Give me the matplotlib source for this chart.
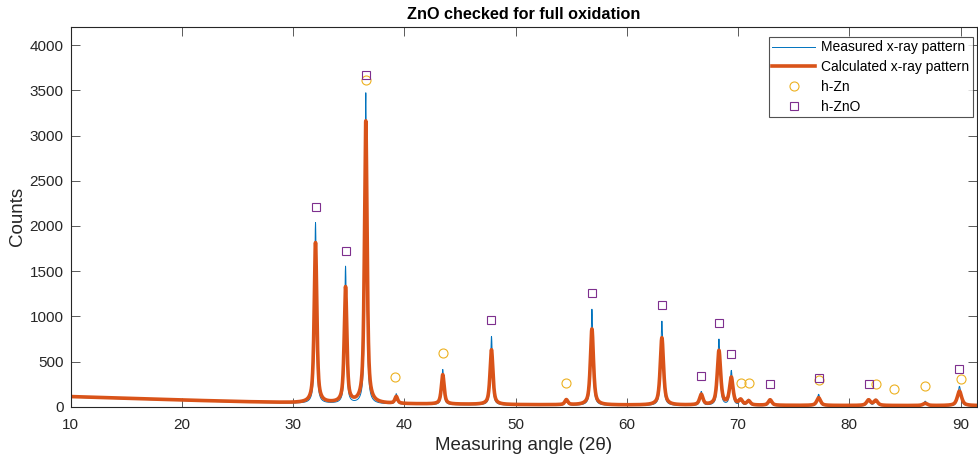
import numpy as np
import matplotlib.pyplot as plt

plt.rcParams['font.family'] = ['Liberation Sans', 'DejaVu Sans']

# Peak list of the pattern: position (2theta), height of calculated / measured peak, width
peak_pos = [32.01, 34.71, 36.53, 39.27, 43.45, 47.83, 54.56, 56.86, 63.15, 66.69,
            68.28, 69.39, 70.23, 70.95, 72.88, 77.24, 81.73, 82.38, 86.82, 89.90]
calc_height = [1770, 1275, 3120, 75, 325, 605, 55, 840, 745, 115,
               600, 300, 55, 45, 60, 85, 60, 55, 25, 160]
meas_height = [2000, 1515, 3440, 115, 390, 760, 75, 1065, 935, 155,
               735, 385, 75, 70, 80, 130, 80, 75, 55, 220]
peak_fwhm = [0.28, 0.28, 0.28, 0.29, 0.30, 0.31, 0.32, 0.33, 0.35, 0.36,
             0.36, 0.37, 0.37, 0.37, 0.38, 0.40, 0.42, 0.42, 0.44, 0.46]

# Background counts under the pattern
bg_angle = [10, 15, 20, 25, 30, 40, 50, 60, 70, 80, 91.5]
bg_counts = [112, 94, 74, 57, 44, 31, 22, 18, 15, 13, 12]

# Reference reflections
zn_angle = [36.53, 39.20, 43.45, 54.56, 70.23, 70.95, 77.24, 82.38, 84.06, 86.82, 90.05]
zn_counts = [3614, 330, 597, 259, 259, 262, 292, 248, 199, 229, 306]
zno_angle = [32.01, 34.71, 36.53, 47.83, 56.86, 63.15, 66.69, 68.28, 69.39, 72.88,
             77.24, 81.73, 89.90]
zno_counts = [2212, 1719, 3670, 956, 1258, 1128, 340, 929, 583, 255, 321, 255, 417]


def pattern(x, heights, widths, bg_shift=0.0):
    y = np.interp(x, bg_angle, bg_counts) + bg_shift
    for p, h, w in zip(peak_pos, heights, widths):
        lor = 1.0 / (1.0 + (2 * (x - p) / w) ** 2)
        gau = np.exp(-4 * np.log(2) * ((x - p) / w) ** 2)
        y += h * (0.7 * lor + 0.3 * gau)
    return y


two_theta = np.arange(10, 91.5, 0.01)
measured = pattern(two_theta, meas_height, [0.7 * w for w in peak_fwhm], bg_shift=-7)
calculated = pattern(two_theta, calc_height, peak_fwhm)

fig = plt.figure(figsize=(9.79, 4.58), dpi=100)
ax = fig.add_axes([0.0722, 0.112, 0.926, 0.829])

ax.plot(two_theta, measured, color='#0072BD', lw=0.7, label='Measured x-ray pattern')
ax.plot(two_theta, calculated, color='#D95319', lw=2.6, label='Calculated x-ray pattern')
ax.plot(zn_angle, zn_counts, 'o', mfc='none', mec='#EDB120', ms=6.5, mew=0.8,
        label='h-Zn')
ax.plot(zno_angle, zno_counts, 's', mfc='none', mec='#7E2F8E', ms=5.5, mew=0.8,
        label='h-ZnO')

ax.set_xlim(10, 91.5)
ax.set_ylim(0, 4200)
ax.set_xticks(range(10, 91, 10))
ax.set_yticks(range(0, 4001, 500))
ax.tick_params(direction='in', length=6.5, width=0.6, color='#404040',
               labelsize=11, labelcolor='#262626', top=True, right=True, pad=5)
ax.tick_params(axis='x', pad=8)
for s in ax.spines.values():
    s.set_color('#262626')
    s.set_linewidth(0.8)

ax.set_xlabel('Measuring angle (2θ)', fontsize=13.5, color='#262626', labelpad=4)
ax.set_ylabel('Counts', fontsize=13.5, color='#262626', labelpad=3)
ax.set_title('ZnO checked for full oxidation', fontsize=11.7, fontweight='bold',
             color='black', pad=6)

leg = ax.legend(loc='upper right', bbox_to_anchor=(973 / 979, 1 - 37 / 458),
                bbox_transform=fig.transFigure, borderaxespad=0,
                fontsize=10, frameon=True, fancybox=False, edgecolor='#262626',
                borderpad=0.25, labelspacing=0.42, handlelength=3.1,
                handletextpad=0.45)
leg.get_frame().set_linewidth(0.8)

fig.savefig('out.png', dpi=100)
